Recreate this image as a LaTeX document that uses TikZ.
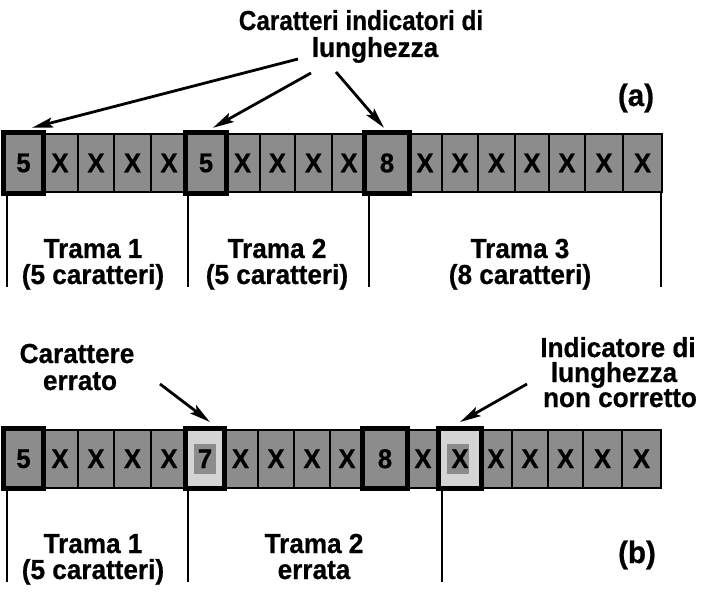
\documentclass[tikz,border=0pt]{standalone}
\usepackage{fontspec}
\setmainfont{Liberation Sans}[FakeStretch=0.95, BoldFeatures={FakeStretch=0.95, FakeBold=0.6}]
\usetikzlibrary{arrows.meta}
\definecolor{cellgray}{gray}{0.55}
\definecolor{lightcell}{gray}{0.83}
\begin{document}
\begin{tikzpicture}[x=1pt,y=-1pt,
  cell/.style={draw=black, line width=2.4pt, fill=cellgray, minimum height=58pt,
    inner sep=0pt, font=\fontsize{27}{27}\selectfont\bfseries},
  errcell/.style={cell, fill=lightcell,
    path picture={\fill[cellgray] ([xshift=#1-11pt,yshift=-15pt]path picture bounding box.center) rectangle ++(22pt,30pt);}},
  errcell/.default=0pt,
  indbox/.style={draw=black, line width=5pt},
  lbl/.style={font=\fontsize{27.5}{26}\selectfont\bfseries, inner sep=0pt, anchor=base},
  tag/.style={lbl, font=\fontsize{31}{31}\selectfont\bfseries},
  arr/.style={line width=2.8pt, -{Stealth[length=21pt,width=10pt,inset=4pt]}},
  vline/.style={line width=1.8pt}]
\fill[white] (0,0) rectangle (717,593);
\useasboundingbox (0,0) rectangle (717,593);

% ---------- row (a)
\foreach \l/\r/\t [count=\i from 0] in {5/42/5,42/78/X,78/114/X,114/151/X,151/187/X,
  187/225/5,225/260/X,260/295/X,295/332/X,332/366/X,
  366/408/8,408/442/X,442/478/X,478/515/X,515/549/X,549/585/X,585/623/X,623/662/X}
  {\node[cell, minimum width={(\r-\l)*1pt}] (a\i) at ({(\l+\r)/2},163) {\t};}
\foreach \k in {0,5,10}
  {\draw[indbox] (a\k.north west) rectangle (a\k.south east);}

% vertical lines (a)
\coordinate (la0) at (7,287);
\coordinate (la1) at (188,287);
\coordinate (la2) at (369,287);
\coordinate (la3) at (661,287);
\draw[vline] (la0 |- a0.south) -- (la0);
\draw[vline] (la1 |- a5.south) -- (la1);
\draw[vline] (la2 |- a10.south) -- (la2);
\draw[vline] (la3 |- a17.south) -- (la3);

% labels (a)
\node[lbl] (ta1) at (361,30) {\scalebox{0.93}[1]{Caratteri indicatori di}};
\node[lbl] (ta2) at (375,57) {lunghezza};
\node[tag] (lba) at (636,106) {(a)};
\node[lbl] (f1a) at (93,258) {Trama 1};
\node[lbl] (f1b) at (93,284) {(5 caratteri)};
\node[lbl] (f2a) at (277,258) {Trama 2};
\node[lbl] (f2b) at (277,284) {(5 caratteri)};
\node[lbl] (f3a) at (520,258) {Trama 3};
\node[lbl] (f3b) at (520,284) {(8 caratteri)};

% arrows (a)
\coordinate (p1) at (298,59);
\coordinate (p2) at (311,73);
\coordinate (p3) at (336,72);
\draw[arr] (p1) -- ([shift={(8.5,-5)}]a0.north);
\draw[arr] (p2) -- ([shift={(7,-5)}]a5.north);
\draw[arr] (p3) -- ([shift={(-3,-5)}]a10.north);

% ---------- row (b)
\foreach \l/\r/\t/\i in {5/42/5/0,42/78/X/1,78/114/X/2,114/151/X/3,151/187/X/4,
  223/258/X/6,258/294/X/7,294/330/X/8,330/364/X/9,
  364/406/8/10,406/440/X/11,480/512/X/13,512/548/X/14,548/583/X/15,583/622/X/16,622/661/X/17}
  {\node[cell, minimum width={(\r-\l)*1pt}] (b\i) at ({(\l+\r)/2},458.75) {\t};}
\node[errcell, minimum width=36pt] (b5) at (205,458.75) {7};
\node[errcell=-2.5pt, minimum width=40pt] (b12) at (460,458.75) {X};
\foreach \k in {0,5,10,12}
  {\draw[indbox] (b\k.north west) rectangle (b\k.south east);}

% vertical lines (b)
\coordinate (lb0) at (7,582);
\coordinate (lb1) at (188,582);
\coordinate (lb2) at (442,582);
\draw[vline] (lb0 |- b0.south) -- (lb0);
\draw[vline] (lb1 |- b5.south) -- (lb1);
\draw[vline] (lb2 |- b12.south) -- (lb2);

% labels (b)
\node[lbl] (ce1) at (77,363) {Carattere};
\node[lbl] (ce2) at (80,390) {errato};
\node[lbl] (il1) at (618,357) {Indicatore di};
\node[lbl] (il2) at (614,382) {lunghezza};
\node[lbl] (il3) at (620,407) {non corretto};
\node[lbl] (g1a) at (93,553) {Trama 1};
\node[lbl] (g1b) at (93,579) {(5 caratteri)};
\node[lbl] (g2a) at (314,553) {Trama 2};
\node[lbl] (g2b) at (314,579) {errata};
\node[tag] (lbb) at (637,563) {(b)};

% arrows (b)
\coordinate (q1) at (160,384);
\coordinate (q2) at (527,384);
\draw[arr] (q1) -- ([shift={(5,-6.5)}]b5.north);
\draw[arr] (q2) -- ([shift={(0,-6.5)}]b12.north);
\end{tikzpicture}
\end{document}
